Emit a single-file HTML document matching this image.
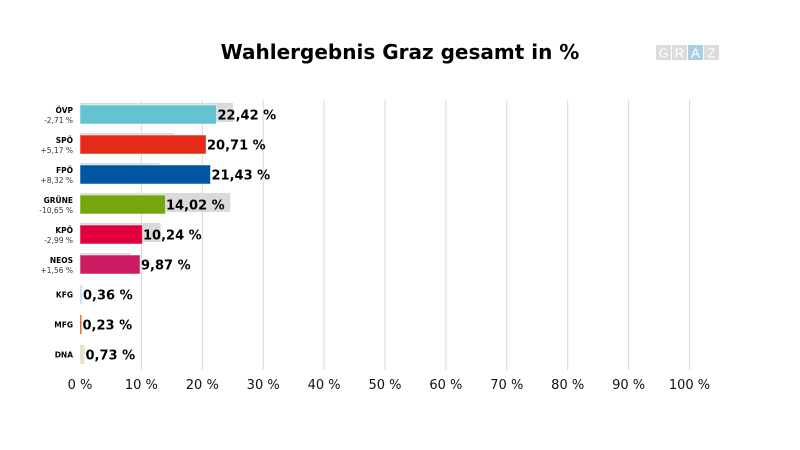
<!DOCTYPE html>
<html><head><meta charset="utf-8"><style>
html,body{margin:0;padding:0;background:#fff;}
svg{display:block;font-family:"DejaVu Sans","Liberation Sans",sans-serif;}
</style></head><body>
<svg width="800" height="450" viewBox="0 0 800 450" xmlns="http://www.w3.org/2000/svg">
<rect width="800" height="450" fill="#fff"/>
<text x="400" y="59" text-anchor="middle" font-size="20" font-weight="bold" fill="#000">Wahlergebnis Graz gesamt in %</text>
<g>
<rect x="656" y="45" width="15" height="15" fill="#dcdcdc"/>
<rect x="672" y="45" width="15" height="15" fill="#dcdcdc"/>
<rect x="688" y="45" width="15" height="15" fill="#a9d0e2"/>
<rect x="704" y="45" width="15" height="15" fill="#dcdcdc"/>
<g font-size="13" fill="#fff" text-anchor="middle" font-family="Liberation Sans, sans-serif">
<text x="663.5" y="57.5">G</text><text x="679.5" y="57.5">R</text><text x="695.5" y="57.5">A</text><text x="711.5" y="57.5">Z</text>
</g>
</g>
<g stroke="#d8d8d8" stroke-width="1">
<line x1="141.4" y1="100" x2="141.4" y2="370"/>
<line x1="202.3" y1="100" x2="202.3" y2="370"/>
<line x1="263.2" y1="100" x2="263.2" y2="370"/>
<line x1="324.1" y1="100" x2="324.1" y2="370"/>
<line x1="385" y1="100" x2="385" y2="370"/>
<line x1="445.9" y1="100" x2="445.9" y2="370"/>
<line x1="506.8" y1="100" x2="506.8" y2="370"/>
<line x1="567.7" y1="100" x2="567.7" y2="370"/>
<line x1="628.6" y1="100" x2="628.6" y2="370"/>
<line x1="689.5" y1="100" x2="689.5" y2="370"/>
</g>
<g fill="#dadada">
<rect x="80" y="103" width="153" height="19"/>
<rect x="80" y="133" width="94.6" height="19"/>
<rect x="80" y="163" width="79.8" height="19"/>
<rect x="80" y="193" width="150.2" height="19"/>
<rect x="80" y="223" width="80.6" height="19"/>
<rect x="80" y="253" width="50.6" height="19"/>
</g>
<g stroke="#ffffff" stroke-opacity="0.5" stroke-width="1">
<rect x="80" y="105" width="136.5" height="19" fill="#63c3d1"/>
<rect x="80" y="135" width="126.1" height="19" fill="#e52a18"/>
<rect x="80" y="165" width="130.5" height="19" fill="#0056a3"/>
<rect x="80" y="195" width="85.4" height="19" fill="#73a70b"/>
<rect x="80" y="225" width="62.4" height="19" fill="#e2003c"/>
<rect x="80" y="255" width="60.1" height="19" fill="#cc1b63"/>
</g>
<rect x="80" y="285" width="2.4" height="19" fill="#cfe4f6"/>
<rect x="80" y="315" width="1.6" height="19" fill="#f07040"/>
<rect x="80" y="345" width="4.6" height="19" fill="#e8e2cc"/>
<g font-size="13" font-weight="bold" fill="#000">
<text x="217.5" y="119.5">22,42 %</text>
<text x="207" y="149.5">20,71 %</text>
<text x="211.5" y="179.5">21,43 %</text>
<text x="166" y="209.5">14,02 %</text>
<text x="143" y="239.5">10,24 %</text>
<text x="141" y="269.5">9,87 %</text>
<text x="83" y="299.5">0,36 %</text>
<text x="82.5" y="329.5">0,23 %</text>
<text x="85.5" y="359.5">0,73 %</text>
</g>
<g font-size="7.5" text-anchor="end" fill="#000">
<text x="73" y="113" font-weight="bold">ÖVP</text>
<text x="73" y="123" fill="#333">-2,71 %</text>
<text x="73" y="143" font-weight="bold">SPÖ</text>
<text x="73" y="153" fill="#333">+5,17 %</text>
<text x="73" y="173" font-weight="bold">FPÖ</text>
<text x="73" y="183" fill="#333">+8,32 %</text>
<text x="73" y="203" font-weight="bold">GRÜNE</text>
<text x="73" y="213" fill="#333">-10,65 %</text>
<text x="73" y="233" font-weight="bold">KPÖ</text>
<text x="73" y="243" fill="#333">-2,99 %</text>
<text x="73" y="263" font-weight="bold">NEOS</text>
<text x="73" y="273" fill="#333">+1,56 %</text>
<text x="73" y="297.5" font-weight="bold">KFG</text>
<text x="73" y="327.5" font-weight="bold">MFG</text>
<text x="73" y="357.5" font-weight="bold">DNA</text>
</g>
<g font-size="13" text-anchor="middle" fill="#111">
<text x="80" y="389">0 %</text>
<text x="141.4" y="389">10 %</text>
<text x="202.3" y="389">20 %</text>
<text x="263.2" y="389">30 %</text>
<text x="324.1" y="389">40 %</text>
<text x="385" y="389">50 %</text>
<text x="445.9" y="389">60 %</text>
<text x="506.8" y="389">70 %</text>
<text x="567.7" y="389">80 %</text>
<text x="628.6" y="389">90 %</text>
<text x="689.5" y="389">100 %</text>
</g>
</svg>
</body></html>
